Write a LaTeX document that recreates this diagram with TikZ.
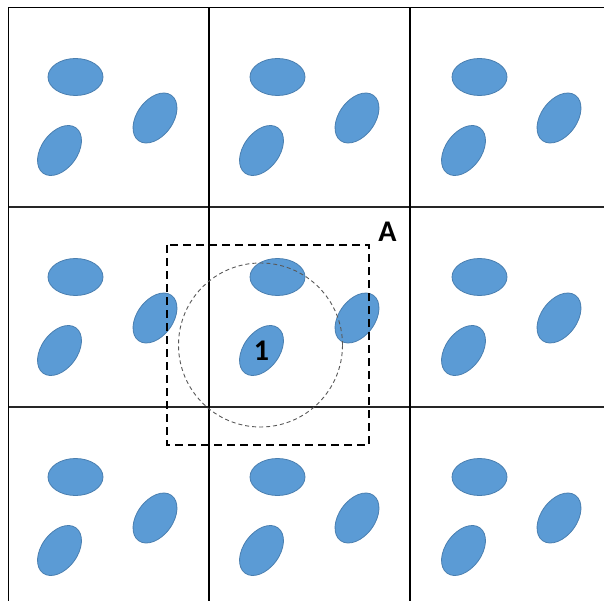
\documentclass[tikz,border=0pt]{standalone}
\usepackage{fontspec}
\setmainfont{Carlito}
\usetikzlibrary{shapes.geometric}
\definecolor{blobfill}{HTML}{5B9BD5}
\definecolor{blobline}{HTML}{4A7FB0}
\tikzset{
  blob/.style={ellipse, draw=blobline, fill=blobfill, line width=0.8pt, inner sep=0pt},
  flatblob/.style={blob, minimum width=55pt, minimum height=37pt},
  tiltblob/.style={blob, minimum width=56pt, minimum height=36pt, rotate=54},
  thickgrid/.style={line width=2pt, black},
  thingrid/.style={line width=1.2pt, black!85},
  window/.style={line width=2.2pt, dash pattern=on 8pt off 5pt, black},
  reach/.style={draw, line width=0.9pt, dash pattern=on 4pt off 3pt, black!65},
  lbl/.style={font=\bfseries\fontsize{30}{30}\selectfont, inner sep=0pt}
}
\begin{document}
\begin{tikzpicture}[x=1pt,y=-1pt]
\useasboundingbox (0,0) rectangle (604,601);
\fill[white] (0,0) rectangle (604,601);
% grid
\draw[thingrid] (8,207) -- (604,207);
\draw[thingrid] (8,407) -- (604,407);
\draw[line width=1.8pt] (8,7.5) -- (604,7.5);
\draw[line width=1pt] (8,7.5) -- (8,601);
\draw[thickgrid] (208.5,7.5) -- (208.5,601);
\draw[thickgrid] (410,7.5) -- (410,601);
% blobs
\foreach \i in {0,1,2}{
  \foreach \j in {0,1,2}{
    \node[flatblob] (h\i\j) at ({75.5+202*\i},{77+200*\j}) {};
    \node[tiltblob] (r\i\j) at ({155+202*\i},{118+200*\j}) {};
    \node[tiltblob] (b\i\j) at ({59.5+202*\i},{150.5+200*\j}) {};
  }
}
\node[lbl] (one) at (b11.center) {1};
% window and reach
\draw[window] (167,245) rectangle (369,445);
\node[reach, circle, minimum size=164pt, inner sep=0pt] (circ) at (260.5,345) {};
\node[lbl] (A) at (387.5,232) {A};
\end{tikzpicture}
\end{document}
